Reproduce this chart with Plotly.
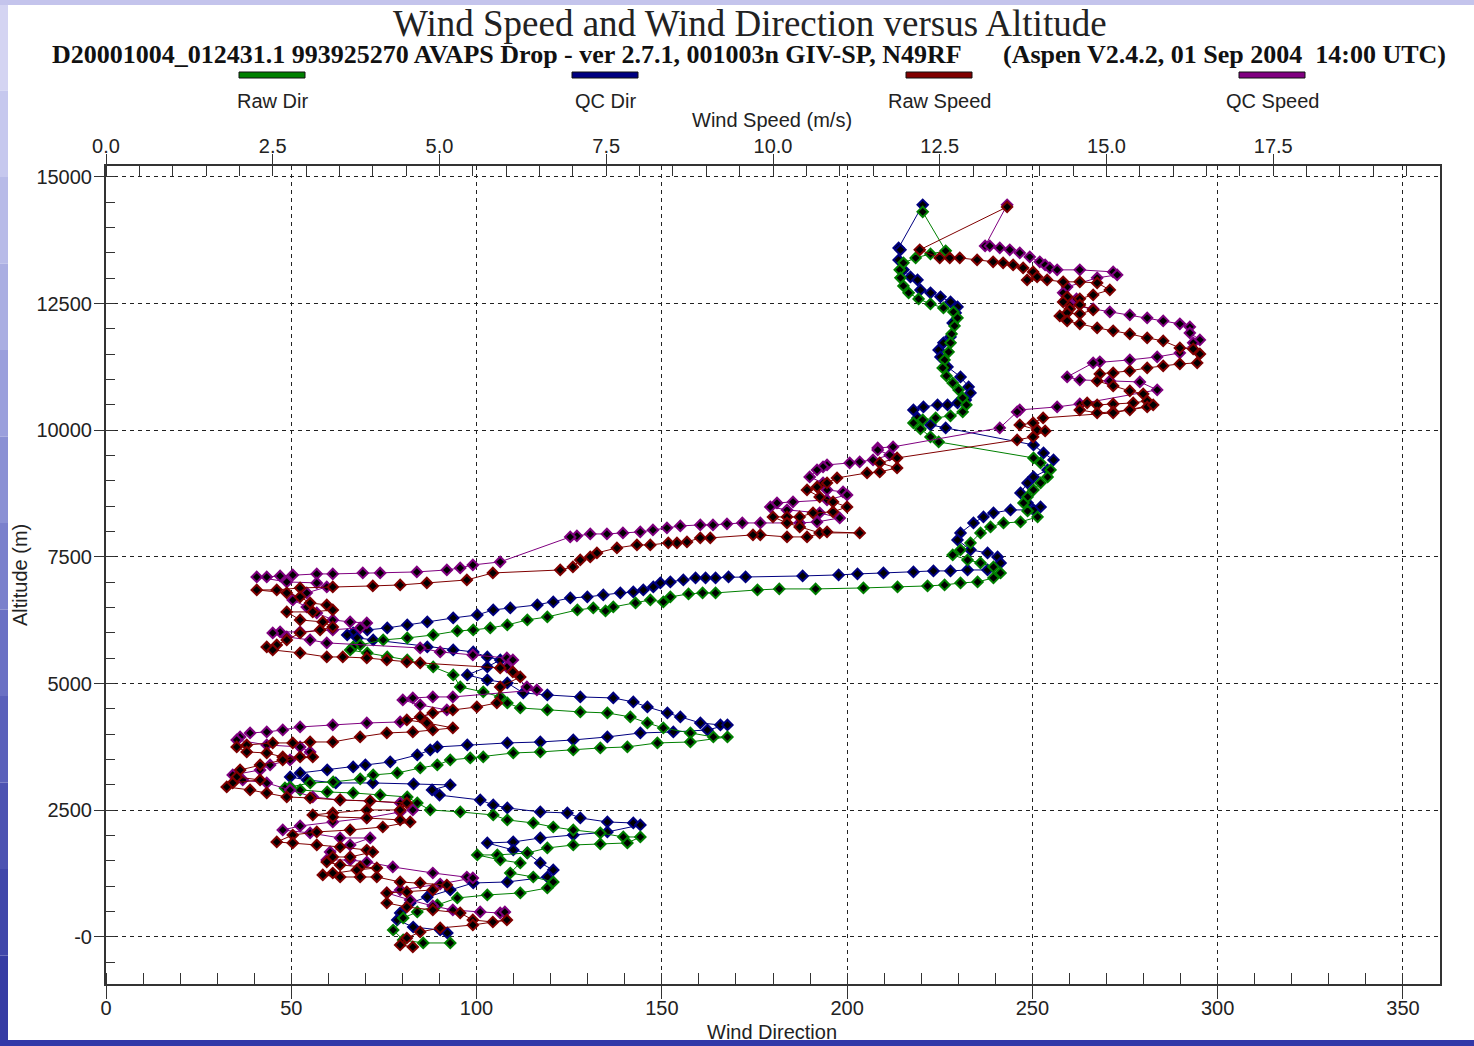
import plotly.graph_objects as go

# ---------------- sounding data (altitude in m) ----------------
raw_dir_alt = [14312, 13542, 13482, 13403, 13305, 13167, 13009, 12851, 12713, 12594, 12495, 12416, 12337, 12219,
               12061, 11903, 11726, 11548, 11390, 11232, 11074, 10936, 10798, 10640, 10502, 10364, 10285, 10245,
               10206, 10146, 10028, 9870, 9771, 9455, 9357, 9219, 9080, 8962, 8824, 8686, 8567, 8409, 8291, 8192,
               8172, 8093, 7975, 7778, 7640, 7541, 7442, 7383, 7304, 7185, 7087, 7008, 6988, 6948, 6929, 6909,
               6889, 6870, 6870, 6850, 6791, 6791, 6771, 6712, 6613, 6652, 6593, 6514, 6435, 6494, 6455, 6317,
               6258, 6159, 6100, 6060, 6040, 5961, 5902, 5863, 5764, 5725, 5665, 5606, 5527, 5468, 5330, 5172,
               4935, 4836, 4738, 4619, 4520, 4481, 4442, 4422, 4343, 4224, 4126, 4027, 3948, 3948, 3849, 3830,
               3751, 3731, 3691, 3652, 3632, 3553, 3533, 3494, 3395, 3336, 3237, 3198, 3119, 3060, 3040, 2961,
               2941, 2902, 2862, 2843, 2803, 2764, 2645, 2507, 2468, 2408, 2310, 2250, 2171, 2112, 2053, 1974,
               1974, 1856, 1836, 1816, 1757, 1658, 1619, 1619, 1520, 1461, 1263, 1184, 1086, 967, 869, 829,
               770, 632, 494, 375, 138, -59, -118, -118]
raw_dir = [220.4, 226.6, 222.5, 218.5, 215.2, 214.2, 214.4, 215.2, 216.6, 219.3, 222.5, 226.0, 228.7, 229.8,
           229.0, 228.2, 227.9, 227.4, 226.3, 225.8, 226.8, 228.5, 230.1, 231.2, 232.2, 231.2, 227.9, 223.9,
           220.4, 217.9, 219.8, 222.5, 224.7, 250.3, 252.2, 254.9, 254.1, 252.2, 250.3, 248.7, 247.6, 248.7,
           251.4, 246.8, 242.2, 238.7, 236.0, 233.3, 230.6, 228.5, 232.5, 236.0, 239.5, 241.4, 239.5, 235.2,
           230.6, 226.3, 221.7, 213.6, 204.4, 191.5, 181.7, 175.8, 164.5, 161.0, 157.2, 152.3, 150.4, 146.9,
           142.9, 136.9, 134.8, 131.5, 127.2, 119.1, 113.7, 108.3, 103.7, 99.1, 94.8, 88.3, 81.3, 74.8, 68.6,
           66.7, 65.9, 70.5, 75.9, 81.3, 88.3, 93.7, 95.6, 101.8, 106.4, 108.3, 111.8, 119.1, 128.0, 135.3,
           141.5, 146.1, 150.4, 157.7, 163.9, 167.7, 157.7, 148.8, 140.7, 133.4, 126.1, 117.2, 109.9, 101.8,
           98.3, 92.9, 89.4, 84.8, 78.6, 72.1, 68.6, 61.3, 55.1, 49.7, 48.3, 52.4, 59.7, 66.7, 74.0, 81.3,
           84.0, 87.5, 95.6, 104.5, 108.3, 115.3, 120.7, 126.1, 133.4, 139.6, 144.2, 140.7, 133.4, 126.1,
           119.1, 113.7, 105.6, 100.2, 106.4, 111.8, 109.1, 115.3, 120.7, 119.1, 111.8, 102.9, 94.8, 89.4,
           84.0, 80.2, 77.5, 80.2, 85.6, 92.9]

qc_dir_alt = [14450, 13601, 13562, 13364, 13167, 13028, 12969, 12772, 12713, 12634, 12535, 12436, 12318, 12120,
              11844, 11726, 11587, 11449, 11252, 11054, 10857, 10739, 10600, 10541, 10502, 10502, 10462, 10403,
              10245, 10107, 10048, 9712, 9554, 9416, 9219, 9080, 8962, 8765, 8567, 8488, 8429, 8429, 8370, 8291,
              8172, 7975, 7837, 7640, 7580, 7501, 7383, 7244, 7244, 7225, 7225, 7205, 7185, 7166, 7146, 7126,
              7106, 7106, 7087, 7087, 7087, 7047, 7008, 6988, 6909, 6850, 6810, 6791, 6751, 6712, 6692, 6613,
              6554, 6494, 6455, 6356, 6297, 6218, 6159, 6100, 6060, 6001, 5961, 5902, 5863, 5725, 5665, 5626,
              5527, 5468, 5330, 5172, 5073, 5014, 4817, 4777, 4738, 4718, 4639, 4540, 4422, 4343, 4224, 4185,
              4185, 4086, 4047, 4027, 3948, 3889, 3849, 3830, 3790, 3751, 3691, 3593, 3455, 3395, 3356, 3297,
              3237, 3158, 3099, 3040, 3040, 3020, 3000, 2902, 2800, 2704, 2606, 2547, 2468, 2448, 2349, 2270,
              2250, 2211, 2073, 2013, 1954, 1875, 1856, 1717, 1658, 1461, 1323, 1184, 1086, 1066, 928, 790,
              671, 474, 336, 197, 138, 79]
qc_dir = [220.4, 213.9, 214.4, 213.9, 215.2, 217.1, 219.0, 219.8, 222.5, 225.2, 227.9, 229.8, 229.3, 228.5,
          227.9, 226.0, 224.7, 225.2, 227.1, 230.6, 232.8, 233.3, 232.0, 229.8, 227.1, 224.4, 220.6, 217.9,
          219.0, 222.5, 226.6, 250.3, 253.0, 255.7, 254.1, 250.3, 248.7, 246.8, 248.7, 252.2, 250.3, 244.1,
          239.5, 236.8, 234.1, 230.6, 229.8, 233.3, 237.9, 240.6, 241.4, 237.9, 232.5, 227.9, 223.3, 217.9,
          209.8, 202.8, 197.7, 188.0, 172.6, 168.0, 164.5, 161.8, 159.1, 155.8, 152.3, 149.6, 147.7, 145.0,
          142.3, 138.8, 134.2, 129.9, 125.3, 120.7, 116.4, 109.1, 104.5, 100.2, 93.7, 86.7, 81.3, 75.9, 70.5,
          66.7, 65.1, 67.8, 72.1, 86.7, 93.7, 99.1, 102.9, 106.4, 102.9, 97.5, 102.9, 108.3, 112.6, 119.1,
          128.0, 136.9, 142.3, 146.1, 151.5, 155.0, 160.4, 165.8, 167.7, 162.3, 153.1, 144.2, 135.3, 126.1,
          117.2, 108.3, 97.5, 89.4, 87.5, 84.0, 76.7, 70.0, 66.7, 59.7, 52.4, 49.7, 54.3, 62.0, 72.0, 83.0,
          92.9, 88.0, 90.0, 101.0, 104.5, 108.3, 117.2, 124.5, 128.0, 135.3, 142.3, 144.2, 135.3, 126.1,
          117.2, 109.9, 102.9, 109.9, 113.7, 117.2, 120.7, 119.1, 108.3, 99.1, 92.9, 86.7, 82.1, 79.4, 78.6,
          82.9, 90.2, 92.1]

raw_spd_alt = [14410, 13562, 13403, 13403, 13403, 13364, 13325, 13305, 13265, 13206, 13127, 13028, 12969, 12969,
               12930, 12930, 12910, 12772, 12673, 12595, 12634, 12535, 12397, 12476, 12376, 12298, 12318, 12258,
               12160, 12101, 12022, 11963, 11903, 11824, 11765, 11627, 11607, 11508, 11331, 11311, 11272, 11232,
               11173, 11133, 11114, 10975, 10876, 10778, 10719, 10581, 10541, 10521, 10502, 10541, 10403, 10344,
               10364, 10403, 10462, 10502, 10344, 10245, 10146, 10107, 10008, 9988, 9870, 9811, 9455, 9357, 9258,
               9179, 9159, 9060, 8962, 8883, 8824, 8686, 8587, 8488, 8390, 8370, 8291, 8291, 8291, 8172, 8093,
               7975, 7975, 7995, 7896, 7896, 7936, 7936, 7877, 7877, 7797, 7778, 7778, 7738, 7738, 7679, 7580,
               7501, 7442, 7304, 7244, 7185, 7047, 6988, 6948, 6929, 6909, 6889, 6850, 6850, 6791, 6712, 6593,
               6554, 6455, 6416, 6416, 6258, 6218, 6119, 6060, 6001, 5863, 5764, 5725, 5665, 5606, 5527, 5527,
               5507, 5468, 5429, 5409, 5310, 5231, 5132, 4935, 4619, 4540, 4481, 4422, 4343, 4284, 4224, 4126,
               4086, 4047, 4027, 3948, 3849, 3849, 3830, 3830, 3790, 3751, 3652, 3632, 3553, 3553, 3553, 3494,
               3395, 3297, 3158, 3099, 3040, 2961, 2902, 2843, 2764, 2744, 2704, 2684, 2645, 2507, 2507, 2448,
               2408, 2369, 2349, 2310, 2270, 2171, 2112, 2073, 2013, 1875, 1856, 1816, 1777, 1717, 1678, 1579,
               1579, 1480, 1421, 1382, 1362, 1323, 1263, 1224, 1184, 1184, 1184, 1086, 1066, 1026, 928, 889,
               869, 671, 592, 533, 474, 336, 296, 336, 237, 178, 99, -20, -158, -197]
raw_spd = [13.51, 12.20, 12.50, 12.65, 12.80, 13.06, 13.30, 13.45, 13.60, 13.75, 13.90, 13.96, 13.81, 14.11,
           14.35, 14.60, 14.86, 15.05, 14.80, 14.60, 14.41, 14.35, 14.45, 14.60, 14.80, 14.60, 14.41, 14.30,
           14.41, 14.60, 14.86, 15.10, 15.35, 15.61, 15.85, 16.10, 16.30, 16.40, 16.36, 16.10, 15.85, 15.61,
           15.35, 15.10, 14.90, 14.86, 15.10, 15.35, 15.55, 15.61, 15.40, 15.10, 14.86, 14.71, 14.60, 14.86,
           15.10, 15.35, 15.61, 15.70, 15.10, 14.05, 13.90, 13.70, 13.96, 14.08, 13.90, 13.66, 11.86, 11.60,
           11.86, 11.60, 11.41, 10.96, 10.81, 10.66, 10.51, 10.70, 10.90, 11.11, 10.90, 10.60, 10.40, 10.21,
           10.00, 10.21, 10.40, 10.70, 11.30, 10.81, 10.51, 10.21, 9.81, 9.70, 9.06, 8.91, 8.71, 8.56, 8.43,
           8.16, 7.96, 7.66, 7.36, 7.26, 7.11, 7.00, 6.81, 5.80, 5.41, 4.81, 4.41, 4.00, 3.40, 2.91, 2.56,
           2.26, 2.71, 2.91, 3.06, 3.31, 3.40, 3.10, 2.71, 2.91, 3.25, 3.40, 3.21, 2.91, 2.71, 2.56, 2.41,
           2.50, 2.91, 3.31, 3.55, 3.91, 4.21, 4.51, 4.71, 5.91, 6.10, 6.21, 5.91, 5.86, 5.56, 5.20, 4.90,
           4.71, 4.51, 4.81, 5.20, 4.90, 4.60, 4.21, 3.81, 3.40, 3.06, 2.80, 2.50, 2.11, 1.96, 2.11, 2.41,
           2.65, 2.91, 3.10, 2.65, 2.31, 2.01, 1.96, 2.31, 1.90, 1.81, 2.16, 2.41, 2.71, 3.06, 3.51, 3.96,
           4.51, 4.41, 3.91, 3.40, 3.10, 3.40, 3.91, 4.41, 4.56, 4.15, 3.66, 3.16, 2.80, 2.56, 2.80, 3.16,
           3.51, 3.91, 4.00, 3.66, 3.40, 3.31, 3.51, 3.81, 4.06, 3.76, 3.40, 3.25, 3.51, 3.81, 4.06, 4.41,
           4.71, 5.11, 4.90, 4.51, 4.21, 4.21, 4.51, 4.90, 5.31, 5.50, 5.80, 6.01, 5.50, 5.01, 4.71, 4.51,
           4.41, 4.60]

qc_spd_alt = [14450, 13640, 13640, 13601, 13562, 13502, 13423, 13325, 13265, 13206, 13167, 13167, 13127, 13068,
              13009, 12831, 12713, 12594, 12476, 12397, 12337, 12278, 12219, 12160, 12101, 12041, 11923, 11785,
              11726, 11528, 11449, 11390, 11351, 11331, 11054, 10995, 10975, 10955, 10798, 10521, 10462, 10403,
              10364, 10048, 9673, 9653, 9613, 9515, 9416, 9377, 9357, 9317, 9278, 9219, 9080, 8962, 8824, 8784,
              8725, 8626, 8587, 8567, 8488, 8429, 8370, 8271, 8192, 8172, 8172, 8172, 8153, 8133, 8133, 8113,
              8074, 8034, 7995, 7975, 7955, 7955, 7916, 7896, 7403, 7343, 7284, 7244, 7205, 7185, 7185, 7166,
              7166, 7146, 7126, 7106, 7106, 7008, 6988, 6909, 6791, 6652, 6514, 6396, 6258, 6218, 6198, 6100,
              6060, 6021, 6021, 6001, 5922, 5863, 5804, 5705, 5626, 5567, 5507, 5468, 5330, 4935, 4876, 4738,
              4738, 4718, 4678, 4580, 4481, 4244, 4224, 4185, 4145, 4086, 4047, 4027, 3948, 3889, 3790, 3751,
              3652, 3494, 3395, 3297, 3198, 3099, 3040, 2902, 2764, 2704, 2684, 2645, 2507, 2468, 2349, 2270,
              2191, 2112, 2053, 1954, 1954, 1816, 1678, 1520, 1520, 1480, 1382, 1263, 1184, 1165, 1046, 928,
              869, 730, 612, 533, 494, 474, 494]
qc_spd = [13.51, 13.18, 13.25, 13.40, 13.55, 13.70, 13.85, 14.00, 14.08, 14.15, 14.26, 14.60, 15.10, 15.16,
          14.86, 14.41, 14.35, 14.55, 14.45, 14.80, 15.05, 15.35, 15.61, 15.85, 16.10, 16.25, 16.25, 16.40,
          16.30, 16.10, 15.76, 15.35, 14.90, 14.80, 14.41, 14.60, 15.05, 15.50, 15.76, 14.60, 14.26, 13.70,
          13.66, 13.40, 11.80, 11.57, 11.57, 11.75, 11.50, 11.30, 11.15, 10.81, 10.75, 10.66, 10.55, 10.75,
          10.81, 11.05, 11.11, 10.81, 10.30, 10.06, 9.96, 10.21, 10.70, 11.00, 10.66, 10.40, 9.81, 9.54,
          9.31, 9.10, 8.91, 8.61, 8.41, 8.20, 8.01, 7.75, 7.51, 7.26, 7.06, 6.96, 5.91, 5.50, 5.31, 5.11,
          4.66, 4.11, 3.85, 3.40, 3.16, 2.80, 2.61, 2.41, 2.26, 2.71, 3.16, 3.31, 3.01, 2.80, 3.01, 3.16,
          3.40, 3.66, 3.91, 3.81, 3.40, 2.91, 2.61, 2.50, 2.71, 3.06, 3.31, 4.71, 5.01, 5.50, 6.01, 6.10,
          6.01, 6.31, 6.46, 5.20, 4.90, 4.60, 4.45, 4.71, 5.11, 4.41, 3.91, 3.40, 2.91, 2.65, 2.41, 2.16,
          2.01, 1.96, 2.41, 2.91, 3.06, 2.76, 2.46, 2.31, 1.90, 2.05, 2.41, 2.76, 3.10, 3.51, 3.96, 4.41,
          4.60, 4.41, 3.91, 3.40, 2.91, 2.65, 3.06, 3.51, 3.96, 3.66, 3.36, 3.31, 3.66, 3.91, 4.30, 4.90,
          5.41, 5.50, 5.01, 4.41, 4.21, 4.56, 4.90, 5.20, 5.61, 5.91, 5.98]

dir_ticks = [0, 50, 100, 150, 200, 250, 300, 350]
spd_ticks = [0.0, 2.5, 5.0, 7.5, 10.0, 12.5, 15.0, 17.5]
spd_labels = ["0.0", "2.5", "5.0", "7.5", "10.0", "12.5", "15.0", "17.5"]
alt_ticks = [0, 2500, 5000, 7500, 10000, 12500, 15000]
alt_labels = ["-0", "2500", "5000", "7500", "10000", "12500", "15000"]

series = [
    # name, values, altitudes, axis, colour
    ("QC Speed", qc_spd, qc_spd_alt, "x2", "#800080"),
    ("Raw Speed", raw_spd, raw_spd_alt, "x2", "#800000"),
    ("QC Dir", qc_dir, qc_dir_alt, "x", "#000080"),
    ("Raw Dir", raw_dir, raw_dir_alt, "x", "#008000"),
]

# ---------------- page geometry (pixels) ----------------
W, H = 1474, 1046
L, R, T, B = 106, 1440, 166, 984


def px(x):
    return (x - L) / (R - L)


def py(y):
    return (B - y) / (B - T)


fig = go.Figure()
for name, vals, alts, ax, col in series:
    fig.add_trace(go.Scatter(
        x=vals, y=alts, xaxis=ax, yaxis="y", name=name, mode="lines+markers",
        line=dict(color=col, width=1),
        marker=dict(symbol="diamond", size=8, color="black", line=dict(color=col, width=2)),
        showlegend=False, hoverinfo="skip"))

axis_col = "#333333"
tick_font = dict(family="Liberation Sans, Arial, sans-serif", size=20, color="#222222")
grid_dash = "4px,4px"

fig.update_layout(
    width=W, height=H, autosize=False,
    margin=dict(l=L, r=W - R, t=T, b=H - B, pad=0),
    paper_bgcolor="white", plot_bgcolor="white",
    xaxis=dict(range=[0, 360], tickmode="array", tickvals=dir_ticks,
               ticks="outside", ticklen=13, tickwidth=1, tickcolor=axis_col,
               ticklabelstandoff=-8,
               showline=True, linecolor=axis_col, linewidth=2,
               showgrid=True, gridcolor="#222222", gridwidth=1, griddash=grid_dash,
               zeroline=False, tickfont=tick_font,
               minor=dict(tickmode="linear", tick0=0, dtick=10, ticks="inside", ticklen=11,
                          tickcolor=axis_col, showgrid=False)),
    xaxis2=dict(range=[0, 20], overlaying="x", side="top", anchor="y",
                tickmode="array", tickvals=spd_ticks, ticktext=spd_labels,
                ticks="outside", ticklen=10, tickwidth=1, tickcolor=axis_col,
                ticklabelstandoff=-7,
                showline=True, linecolor=axis_col, linewidth=2,
                showgrid=False, zeroline=False, tickfont=tick_font,
                minor=dict(tickmode="linear", tick0=0, dtick=0.5, ticks="inside", ticklen=10,
                           tickcolor=axis_col, showgrid=False)),
    yaxis=dict(range=[-928, 15217], tickmode="array", tickvals=alt_ticks, ticktext=alt_labels,
               ticks="outside", ticklen=10, tickwidth=1, tickcolor=axis_col,
               ticklabelstandoff=-2,
               showline=True, linecolor=axis_col, linewidth=2, mirror=True,
               showgrid=True, gridcolor="#222222", gridwidth=1, griddash=grid_dash,
               zeroline=False, tickfont=tick_font,
               minor=dict(tickmode="linear", tick0=0, dtick=500, ticks="inside", ticklen=9,
                          tickcolor=axis_col, showgrid=False)),
)

shapes = []
# slide background strips around the chart
left_cols = ["#d4d4f2", "#c6c8ee", "#b8bbe8", "#aaaee2", "#9a9fdc", "#8a90d4", "#7a80cc",
             "#6a70c4", "#5a60bb", "#4c52b2", "#4046aa", "#363ca4"]
n = len(left_cols)
for i, c in enumerate(left_cols):
    y0 = 4 + i * (1042 - 4) / n
    y1 = 4 + (i + 1) * (1042 - 4) / n
    shapes.append(dict(type="rect", xref="paper", yref="paper", x0=px(0), x1=px(8),
                       y0=py(y1), y1=py(y0), fillcolor=c, line=dict(width=0), layer="below"))
shapes.append(dict(type="rect", xref="paper", yref="paper", x0=px(0), x1=px(W),
                   y0=py(5), y1=py(0), fillcolor="#c4c4ec", line=dict(width=0), layer="below"))
shapes.append(dict(type="rect", xref="paper", yref="paper", x0=px(0), x1=px(W),
                   y0=py(H), y1=py(1040), fillcolor="#3238a8", line=dict(width=0), layer="below"))

# legend swatches and labels
legend_items = [("Raw Dir", "#008000", 272), ("QC Dir", "#000080", 605),
                ("Raw Speed", "#800000", 939), ("QC Speed", "#800080", 1272)]
annotations = []
for label, col, cx in legend_items:
    shapes.append(dict(type="rect", xref="paper", yref="paper", x0=px(cx - 33), x1=px(cx + 33),
                       y0=py(78), y1=py(72), fillcolor=col, line=dict(color="#111111", width=1)))
    annotations.append(dict(text=label, xref="paper", yref="paper", x=px(cx), y=py(101),
                            xanchor="center", yanchor="middle", showarrow=False,
                            font=dict(family="Liberation Sans, Arial, sans-serif", size=20,
                                      color="#222222")))

serif = "Liberation Serif, Times New Roman, serif"
annotations += [
    dict(text="Wind Speed and Wind Direction versus Altitude", xref="paper", yref="paper",
         x=px(750), y=py(23), xanchor="center", yanchor="middle", showarrow=False,
         font=dict(family=serif, size=37, color="#222222")),
    dict(text="<b>D20001004_012431.1 993925270 AVAPS Drop - ver 2.7.1, 001003n GIV-SP, N49RF</b>",
         xref="paper", yref="paper", x=px(50), y=py(54), xanchor="left", yanchor="middle",
         showarrow=False, font=dict(family=serif, size=26, color="#111111")),
    dict(text="<b>(Aspen V2.4.2, 01 Sep 2004&nbsp; 14:00 UTC)</b>",
         xref="paper", yref="paper", x=px(1448), y=py(54), xanchor="right", yanchor="middle",
         showarrow=False, font=dict(family=serif, size=26, color="#111111")),
    dict(text="Wind Speed (m/s)", xref="paper", yref="paper", x=px(772), y=py(120),
         xanchor="center", yanchor="middle", showarrow=False, font=tick_font),
    dict(text="Wind Direction", xref="paper", yref="paper", x=px(772), y=py(1032),
         xanchor="center", yanchor="middle", showarrow=False, font=tick_font),
    dict(text="Altitude (m)", xref="paper", yref="paper", x=px(20), y=py(575), textangle=-90,
         xanchor="center", yanchor="middle", showarrow=False, font=tick_font),
]

fig.update_layout(shapes=shapes, annotations=annotations)
fig.write_html("out.html")
